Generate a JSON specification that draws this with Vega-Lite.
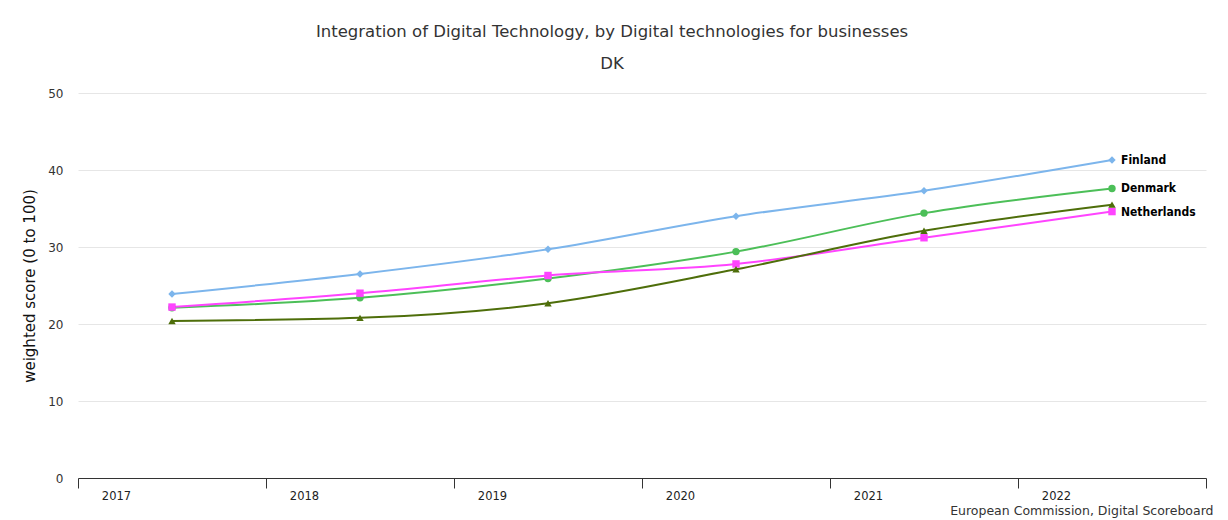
{
  "$schema": "https://vega.github.io/schema/vega-lite/v6.json",
  "autosize": {"type": "none"},
  "width": 1128,
  "height": 385,
  "padding": {"left": 78, "top": 93, "right": 22, "bottom": 42},
  "background": "white",
  "config": {
    "font": "DejaVu Sans",
    "view": {"stroke": null}
  },
  "title": {
    "text": "Integration of Digital Technology, by Digital technologies for businesses",
    "subtitle": "DK",
    "anchor": "middle",
    "dx": -30,
    "fontSize": 16.5,
    "fontWeight": "normal",
    "color": "#333333",
    "subtitleFontSize": 16.5,
    "subtitleColor": "#333333",
    "subtitlePadding": 15,
    "offset": 15
  },
  "data": {
    "values": [
      {"country": "Finland", "year": 2017.5, "value": 23.9},
      {"country": "Finland", "year": 2018.5, "value": 26.5},
      {"country": "Finland", "year": 2019.5, "value": 29.7},
      {"country": "Finland", "year": 2020.5, "value": 34.0},
      {"country": "Finland", "year": 2021.5, "value": 37.3},
      {"country": "Finland", "year": 2022.5, "value": 41.3},
      {"country": "Denmark", "year": 2017.5, "value": 22.1},
      {"country": "Denmark", "year": 2018.5, "value": 23.4},
      {"country": "Denmark", "year": 2019.5, "value": 25.9},
      {"country": "Denmark", "year": 2020.5, "value": 29.4},
      {"country": "Denmark", "year": 2021.5, "value": 34.4},
      {"country": "Denmark", "year": 2022.5, "value": 37.6},
      {"country": "Netherlands", "year": 2017.5, "value": 22.2},
      {"country": "Netherlands", "year": 2018.5, "value": 24.0},
      {"country": "Netherlands", "year": 2019.5, "value": 26.3},
      {"country": "Netherlands", "year": 2020.5, "value": 27.8},
      {"country": "Netherlands", "year": 2021.5, "value": 31.2},
      {"country": "Netherlands", "year": 2022.5, "value": 34.6},
      {"country": "European Union", "year": 2017.5, "value": 20.4},
      {"country": "European Union", "year": 2018.5, "value": 20.8},
      {"country": "European Union", "year": 2019.5, "value": 22.7},
      {"country": "European Union", "year": 2020.5, "value": 27.1},
      {"country": "European Union", "year": 2021.5, "value": 32.1},
      {"country": "European Union", "year": 2022.5, "value": 35.5}
    ]
  },
  "encoding": {
    "x": {
      "field": "year",
      "type": "quantitative",
      "scale": {"domain": [2017, 2023], "nice": false, "zero": false},
      "axis": {
        "values": [2017, 2018, 2019, 2020, 2021, 2022, 2023],
        "labelExpr": "datum.value == 2023 ? '' : format(datum.value, 'd')",
        "grid": false,
        "domainColor": "#333333",
        "tickColor": "#333333",
        "tickSize": 10,
        "labelPadding": 2,
        "labelAlign": "center",
        "labelOffset": 38,
        "labelFontSize": 11.5,
        "labelColor": "#222222",
        "title": "European Commission, Digital Scoreboard",
        "titleFontSize": 12.5,
        "titleFontWeight": "normal",
        "titleColor": "#333333",
        "titleAnchor": "end",
        "titleAlign": "right",
        "titleX": 1135,
        "titlePadding": 3
      }
    },
    "y": {
      "field": "value",
      "type": "quantitative",
      "scale": {"domain": [0, 50], "nice": false},
      "axis": {
        "values": [0, 10, 20, 30, 40, 50],
        "title": "weighted score (0 to 100)",
        "titleFontSize": 15,
        "titleFontWeight": "normal",
        "titleColor": "#111111",
        "titlePadding": 10,
        "domain": false,
        "ticks": false,
        "labelPadding": 15,
        "labelFontSize": 12,
        "labelColor": "#333333",
        "gridColor": "#e6e6e6"
      }
    },
    "color": {
      "field": "country",
      "type": "nominal",
      "scale": {
        "domain": ["Finland", "Denmark", "Netherlands", "European Union"],
        "range": ["#7cb5ec", "#4cbf58", "#ff44ff", "#4e6e0a"]
      },
      "legend": null
    }
  },
  "layer": [
    {
      "mark": {"type": "line", "interpolate": "monotone", "strokeWidth": 2},
      "encoding": {"detail": {"field": "country"}}
    },
    {
      "mark": {"type": "point", "filled": true, "opacity": 1, "size": 55},
      "encoding": {
        "shape": {
          "field": "country",
          "type": "nominal",
          "scale": {
            "domain": ["Finland", "Denmark", "Netherlands", "European Union"],
            "range": ["diamond", "circle", "square", "triangle-up"]
          },
          "legend": null
        }
      }
    },
    {
      "transform": [
        {"filter": "datum.year == 2022.5 && datum.country != 'European Union'"}
      ],
      "mark": {
        "type": "text",
        "align": "left",
        "baseline": "middle",
        "dx": 9,
        "fontSize": 12,
        "fontWeight": "bold",
        "font": "DejaVu Sans Condensed",
        "color": "#000000"
      },
      "encoding": {
        "text": {"field": "country"},
        "color": {"value": "#000000"}
      }
    }
  ]
}
